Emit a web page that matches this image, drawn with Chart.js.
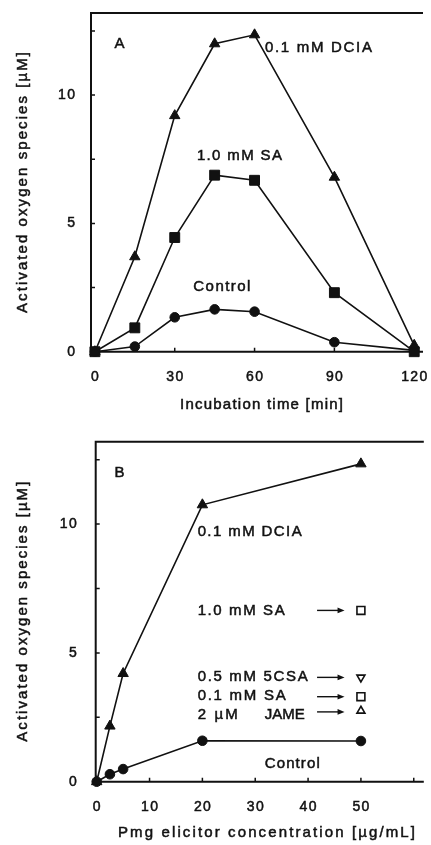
<!DOCTYPE html>
<html><head><meta charset="utf-8">
<script src="https://cdn.jsdelivr.net/npm/chart.js@4.4.0/dist/chart.umd.min.js"></script>
<style>
html,body{margin:0;padding:0;background:#fff;overflow:hidden;width:431px;height:845px;}
#cA{position:absolute;left:0;top:0;}
#cB{position:absolute;left:0;top:420px;}
</style></head><body>
<canvas id="cA" width="431" height="420"></canvas>
<canvas id="cB" width="431" height="425"></canvas>
<script>
// ---------- Panel A data ----------
const timeMin   = [0, 15, 30, 45, 60, 90, 120];
const dciaA     = [0, 3.7, 9.2, 12.0, 12.35, 6.8, 0.25];
const sa1A      = [0, 0.93, 4.45, 6.88, 6.68, 2.3, 0.0];
const controlA  = [0, 0.2, 1.34, 1.65, 1.56, 0.37, 0.05];
const xTicksA   = [0, 30, 60, 90, 120];
const xTickLabelsA = ['0', '30', '60', '90', '120'];
const yTicks    = [0, 2.5, 5, 7.5, 10, 12.5];
const yTickLabels = ['0', '', '5', '', '10', ''];

// ---------- Panel B data ----------
const conc      = [0, 2.5, 5, 20, 50];
const dciaB     = [0, 2.16, 4.2, 10.75, 12.34];
const controlB  = [0, 0.29, 0.49, 1.59, 1.58];
const singleConc = [50];
const sa1B      = [6.65];
const csa5B     = [4.05];
const sa01B     = [3.3];
const jameB     = [2.75];
const xTicksB   = [0, 10, 20, 30, 40, 50, 60];
const xTickLabelsB = ['0', '10', '20', '30', '40', '50', ''];

const INK = '#111';
const FONT = '"Liberation Sans", Arial, sans-serif';

function pts(xs, ys) { return xs.map((v, i) => ({x: v, y: ys[i]})); }

function rawWidth(ctx, t) { let w = 0; for (const c of t) w += ctx.measureText(c).width; return w; }
// draw text char by char with given spacing, or fitted to a target width
function drawSpaced(ctx, t, px, py, align, sp, target) {
  const chars = Array.from(t);
  const raw = rawWidth(ctx, t);
  if (target) sp = (target - raw) / Math.max(1, chars.length - 1);
  const w = raw + sp * (chars.length - 1);
  let cx = align === 'center' ? px - w / 2 : align === 'right' ? px - w : px;
  ctx.textAlign = 'left';
  ctx.lineWidth = 0.5;
  for (const c of chars) {
    ctx.strokeText(c, cx, py);
    ctx.fillText(c, cx, py);
    cx += ctx.measureText(c).width + sp;
  }
}

const panelPlugin = {
  id: 'panel',
  beforeDatasetsDraw(chart, args, o) {
    const {ctx, chartArea: ca, scales: {x, y}} = chart;
    ctx.save();
    ctx.strokeStyle = INK;
    ctx.lineWidth = 2;
    ctx.beginPath();
    ctx.moveTo(ca.left - 1, ca.top); ctx.lineTo(ca.right, ca.top);
    ctx.moveTo(ca.left, ca.top); ctx.lineTo(ca.left, ca.bottom + 1);
    ctx.moveTo(ca.left - 1, ca.bottom); ctx.lineTo(ca.right, ca.bottom);
    ctx.stroke();
    ctx.lineWidth = 1.5;
    ctx.beginPath();
    o.yTicks.forEach(v => {
      const py = y.getPixelForValue(v);
      ctx.moveTo(ca.left, py); ctx.lineTo(ca.left + 4, py);
    });
    o.xTicks.forEach(v => {
      const px = x.getPixelForValue(v);
      ctx.moveTo(px, ca.bottom); ctx.lineTo(px, ca.bottom - 4);
    });
    ctx.stroke();
    ctx.restore();
  },
  afterDraw(chart, args, o) {
    const {ctx, chartArea: ca, scales: {x, y}} = chart;
    ctx.save();
    ctx.fillStyle = INK;
    ctx.strokeStyle = INK;
    ctx.textBaseline = 'middle';
    // tick labels
    ctx.font = '14px ' + FONT;
    o.yTicks.forEach((v, i) => {
      if (o.yTickLabels[i]) drawSpaced(ctx, o.yTickLabels[i], ca.left - o.yLabelGap, y.getPixelForValue(v), 'right', 1.4);
    });
    o.xTicks.forEach((v, i) => {
      if (o.xTickLabels[i]) drawSpaced(ctx, o.xTickLabels[i], x.getPixelForValue(v), ca.bottom + 25, 'center', 1.4);
    });
    // axis titles
    ctx.font = '15px ' + FONT;
    drawSpaced(ctx, o.xTitle, o.xTitleX, ca.bottom + o.xTitleDy, 'center', 0, o.xTitleW);
    ctx.save();
    ctx.translate(23, o.yTitleY);
    ctx.rotate(-Math.PI / 2);
    drawSpaced(ctx, o.yTitle, 0, 0, 'center', 0, o.yTitleW);
    ctx.restore();
    // annotations
    o.notes.forEach(n => {
      ctx.font = '15px ' + FONT;
      drawSpaced(ctx, n.text, x.getPixelForValue(n.x), y.getPixelForValue(n.y), n.align || 'left', 1.4, n.w);
    });
    // arrows
    (o.arrows || []).forEach(a => {
      const x0 = x.getPixelForValue(a.x0), x1 = x.getPixelForValue(a.x1), py = y.getPixelForValue(a.y);
      ctx.lineWidth = 1.4;
      ctx.beginPath();
      ctx.moveTo(x0, py); ctx.lineTo(x1 - 5, py);
      ctx.stroke();
      ctx.beginPath();
      ctx.moveTo(x1, py); ctx.lineTo(x1 - 7, py - 2.8); ctx.lineTo(x1 - 7, py + 2.8); ctx.closePath();
      ctx.fill();
    });
    ctx.restore();
  }
};

function lineSet(data, style, radius, extra) {
  return Object.assign({
    data, showLine: true, borderColor: INK, borderWidth: 1.6,
    pointStyle: style, pointRadius: radius, pointBackgroundColor: INK,
    pointBorderColor: INK, pointBorderWidth: 1, clip: false
  }, extra || {});
}

function makeChart(id, datasets, cfg) {
  return new Chart(document.getElementById(id), {
    type: 'scatter',
    data: {datasets},
    options: {
      responsive: false, animation: false, devicePixelRatio: 1,
      layout: {padding: {top: cfg.padTop, right: 0, left: 0, bottom: 0}},
      plugins: {legend: {display: false}, tooltip: {enabled: false}, panel: cfg.panel},
      scales: {
        x: {type: 'linear', min: cfg.xMin, max: cfg.xMax,
            grid: {display: false}, border: {display: false}, ticks: {display: false},
            afterFit: s => { s.height = cfg.xHeight; }},
        y: {type: 'linear', min: 0, max: 13.2,
            grid: {display: false}, border: {display: false}, ticks: {display: false},
            afterFit: s => { s.width = cfg.yWidth; }}
      }
    },
    plugins: [panelPlugin]
  });
}

makeChart('cA', [
  lineSet(pts(timeMin, dciaA), 'triangle', 6),
  lineSet(pts(timeMin, sa1A), 'rect', 7),
  lineSet(pts(timeMin, controlA), 'circle', 4.8)
], {
  padTop: 13, xMin: -1.47, xMax: 123.3, xHeight: 68.3, yWidth: 91,
  panel: {
    xTicks: xTicksA, xTickLabels: xTickLabelsA, yTicks, yTickLabels, yLabelGap: 16,
    xTitle: 'Incubation time [min]', xTitleX: 261.5, xTitleDy: 53, xTitleW: 163,
    yTitle: 'Activated oxygen species [µM]', yTitleY: 182.5, yTitleW: 261,
    notes: [
      {text: 'A', x: 9.2, y: 12.0, align: 'center'},
      {text: '0.1 mM DCIA', x: 63.9, y: 11.86, w: 107},
      {text: '1.0 mM SA', x: 54.3, y: 7.65, align: 'center', w: 85},
      {text: 'Control', x: 47.7, y: 2.52, align: 'center', w: 57}
    ]
  }
});

makeChart('cB', [
  lineSet(pts(conc, dciaB), 'triangle', 6),
  lineSet(pts(conc, controlB), 'circle', 4.8),
  lineSet(pts(singleConc, sa1B), 'rect', 5.6, {showLine: false, pointBackgroundColor: '#fff', pointBorderWidth: 1.6}),
  lineSet(pts(singleConc, csa5B), 'triangle', 4.6, {showLine: false, pointBackgroundColor: '#fff', pointBorderWidth: 1.6, pointRotation: 180}),
  lineSet(pts(singleConc, sa01B), 'rect', 5.6, {showLine: false, pointBackgroundColor: '#fff', pointBorderWidth: 1.6}),
  lineSet(pts(singleConc, jameB), 'triangle', 4.6, {showLine: false, pointBackgroundColor: '#fff', pointBorderWidth: 1.6})
], {
  padTop: 21.7, xMin: -0.19, xMax: 61.9, xHeight: 63.3, yWidth: 95.7,
  panel: {
    xTicks: xTicksB, xTickLabels: xTickLabelsB, yTicks, yTickLabels, yLabelGap: 19,
    xTitle: 'Pmg elicitor concentration [µg/mL]', xTitleX: 266.5, xTitleDy: 51.3, xTitleW: 297,
    yTitle: 'Activated oxygen species [µM]', yTitleY: 191.7, yTitleW: 260,
    notes: [
      {text: 'B', x: 4.3, y: 12.0, align: 'center'},
      {text: '0.1 mM DCIA', x: 19.1, y: 9.69, w: 104},
      {text: '1.0 mM SA', x: 19.1, y: 6.63, w: 87},
      {text: '0.5 mM 5CSA', x: 19.1, y: 4.07, w: 110},
      {text: '0.1 mM SA', x: 19.1, y: 3.32, w: 88},
      {text: '2 µM', x: 19.1, y: 2.59, w: 40},
      {text: 'JAME', x: 31.8, y: 2.59, w: 40},
      {text: 'Control', x: 31.8, y: 0.71, w: 55}
    ],
    arrows: [
      {x0: 41.7, x1: 46.9, y: 6.65},
      {x0: 41.7, x1: 46.9, y: 4.05},
      {x0: 41.7, x1: 46.9, y: 3.3},
      {x0: 41.7, x1: 46.9, y: 2.71}
    ]
  }
});
</script>
</body></html>
